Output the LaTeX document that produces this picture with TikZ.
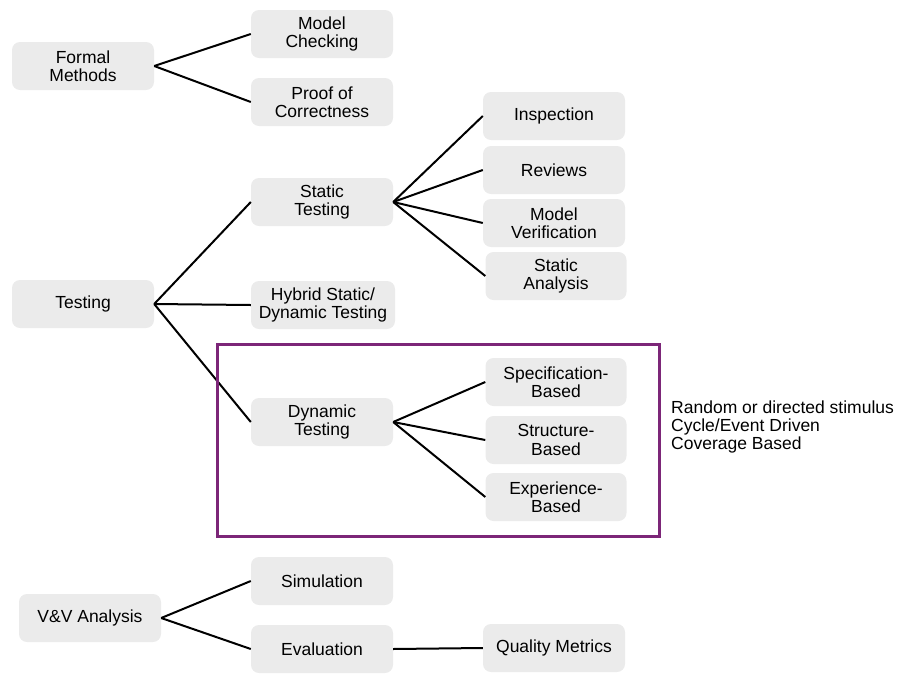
\documentclass[tikz,border=0pt]{standalone}
\usepackage{fontspec}
\setmainfont{Liberation Sans}
\usetikzlibrary{calc}
\definecolor{boxgray}{RGB}{235,235,235}
\definecolor{framepurple}{RGB}{124,38,120}

\begin{document}
\begin{tikzpicture}[x=1pt,y=-1pt,
  item/.style={fill=boxgray, rounded corners=8pt, minimum width=142pt, minimum height=48pt, align=center, inner sep=2pt, font=\fontsize{17.5}{18.5}\selectfont},
  link/.style={line width=2pt}]
\useasboundingbox (0,0) rectangle (898,673);
% formal methods
\node[item] (fm) at (83,66) {Formal\\Methods};
\node[item] (mc) at (322,34) {Model\\Checking};
\node[item] (pc) at (322,102) {Proof of\\Correctness};
\draw[link] (fm.east) -- (mc.west);
\draw[link] (fm.east) -- (pc.west);
% testing
\node[item] (ts) at (83,304) {Testing};
\node[item] (st) at (322,202) {Static\\Testing};
\node[item, minimum width=144pt] (hy) at (323,305) {Hybrid Static/\\Dynamic Testing};
\node[item] (dt) at (322,422) {Dynamic\\Testing};
\draw[link] (ts.east) -- (st.west);
\draw[link] (ts.east) -- (hy.west);
\draw[link] (ts.east) -- (dt.west);
\node[item] (in) at (554,116) {Inspection};
\node[item] (rv) at (554,170) {Reviews};
\node[item] (mv) at (554,223) {Model\\Verification};
\node[item, minimum width=141pt] (sa) at (556,276) {Static\\Analysis};
\draw[link] (st.east) -- (in.west);
\draw[link] (st.east) -- (rv.west);
\draw[link] (st.east) -- (mv.west);
\draw[link] (st.east) -- (sa.west);
\node[item, minimum width=141pt] (sb) at (556,382) {Specification-\\Based};
\node[item, minimum width=141pt] (rb) at (556,440) {Structure-\\Based};
\node[item, minimum width=141pt] (eb) at (556,497) {Experience-\\Based};
\draw[link] (dt.east) -- (sb.west);
\draw[link] (dt.east) -- (rb.west);
\draw[link] (dt.east) -- (eb.west);
\draw[framepurple, line width=3pt] (217,344) rectangle (659,536);
\node[anchor=north west, align=left, inner sep=0pt, font=\fontsize{17.5}{18}\selectfont] (nt) at (671,401) {Random or directed stimulus\\Cycle/Event Driven\\Coverage Based};
% v&v analysis
\node[item] (va) at (90,618) {V\&V Analysis};
\node[item] (sm) at (322,581) {Simulation};
\node[item] (ev) at (322,649) {Evaluation};
\node[item] (qm) at (554,648) {Quality Metrics};
\draw[link] (va.east) -- (sm.west);
\draw[link] (va.east) -- (ev.west);
\draw[link] (ev.east) -- (qm.west);
\end{tikzpicture}
\end{document}
